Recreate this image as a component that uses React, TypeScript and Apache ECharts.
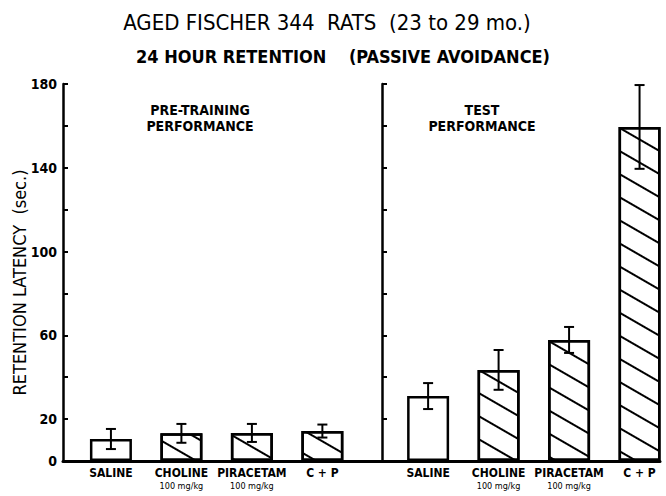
import React, { useEffect, useRef } from "react";
import * as echarts from "echarts";

const categories = ["SALINE", "CHOLINE", "PIRACETAM", "C + P"];
const doses = ["", "100 mg/kg", "100 mg/kg", ""];
const preMeans = [10.5, 13.2, 13.4, 14.3];
const preErrs = [4.8, 4.5, 4.3, 3.1];
const testMeans = [31, 43.5, 57.8, 159.5];
const testErrs = [6.2, 9.5, 6.2, 20];
const yTickLabels = [0, 20, 60, 100, 140, 180];
const panelTitles = ["PRE-TRAINING\nPERFORMANCE", "TEST\nPERFORMANCE"];
const mainTitle = "AGED FISCHER 344  RATS  (23 to 29 mo.)";
const subTitle = "24 HOUR RETENTION    (PASSIVE AVOIDANCE)";
const yName = "RETENTION LATENCY  (sec.)";

const FONT = "'DejaVu Sans Condensed', 'DejaVu Sans', sans-serif";

export default function App() {
  const ref = useRef<HTMLDivElement>(null);
  useEffect(() => {
    if (!ref.current) return;
    const chart = echarts.init(ref.current, null, { renderer: "svg" });
    const pos = (g: number, i: number) => 1 + i + g * 4.5;
    const groups = [
      { means: preMeans, errs: preErrs },
      { means: testMeans, errs: testErrs },
    ];
    const positions: number[] = [];
    const labelFor: string[] = [];
    const barData: any[] = [];
    const errData: number[][] = [];
    const hatch = {
      symbol: "rect",
      symbolSize: 1,
      dashArrayX: [1, 0],
      dashArrayY: [2, 18],
      rotation: Math.PI / 6,
      color: "#000",
    };
    groups.forEach((g, gi) => {
      categories.forEach((c, i) => {
        const x = pos(gi, i);
        positions.push(x);
        labelFor.push(doses[i] ? `{n|${c}}\n{d|${doses[i]}}` : `{n|${c}}`);
        barData.push({
          value: [x, g.means[i]],
          itemStyle: i === 0 ? { decal: "none" } : { decal: hatch },
        });
        errData.push([x, g.means[i], g.errs[i]]);
      });
    });

    const yAxisBase = {
      type: "value",
      min: 0,
      max: 180,
      interval: 20,
      position: "left",
      axisLine: { show: true, onZero: false, lineStyle: { color: "#000", width: 2.5 } },
      axisTick: { show: true, inside: true, length: 5, lineStyle: { color: "#000", width: 2 } },
      splitLine: { show: false },
    };

    chart.setOption({
      animation: false,
      backgroundColor: "#fff",
      grid: { left: 63, top: 84, width: 597, height: 377, containLabel: false, outerBoundsMode: "none" },
      xAxis: {
        type: "value",
        min: 0.32,
        max: 8.79,
        axisLine: { show: true, onZero: false, lineStyle: { color: "#000", width: 3 } },
        axisTick: { show: false },
        splitLine: { show: false },
        axisLabel: {
          customValues: positions,
          margin: 4,
          formatter: (v: number) => {
            const k = positions.findIndex((p) => Math.abs(p - v) < 0.01);
            return k >= 0 ? labelFor[k] : "";
          },
          rich: {
            n: { fontFamily: FONT, fontWeight: "bold", fontSize: 12, color: "#000", lineHeight: 15 },
            d: { fontFamily: FONT, fontSize: 9, color: "#000", lineHeight: 11 },
          },
        },
      },
      yAxis: [
        {
          ...yAxisBase,
          name: yName,
          nameLocation: "middle",
          nameGap: 35,
          nameMoveOverlap: false,
          nameTextStyle: { fontFamily: FONT, fontSize: 18, color: "#000", padding: [0, 20, 0, 0] },
          axisLabel: {
            margin: 6,
            color: "#000",
            fontFamily: FONT,
            fontWeight: "bold",
            fontSize: 14,
            formatter: (v: number) => (yTickLabels.includes(v) ? String(v) : ""),
          },
        },
        {
          ...yAxisBase,
          offset: -319,
          axisLabel: { show: false },
        },
      ],
      graphic: [
        {
          type: "text",
          x: 327,
          y: 22,
          style: { text: mainTitle, font: `22px ${FONT}`, fill: "#000", textAlign: "center", textVerticalAlign: "middle" },
        },
        {
          type: "text",
          x: 343,
          y: 56,
          style: { text: subTitle, font: `bold 18px ${FONT}`, fill: "#000", textAlign: "center", textVerticalAlign: "middle" },
        },
        {
          type: "text",
          x: 200,
          y: 118,
          style: { text: panelTitles[0], font: `bold 14px ${FONT}`, fill: "#000", textAlign: "center", textVerticalAlign: "middle", lineHeight: 16 },
        },
        {
          type: "text",
          x: 482,
          y: 118,
          style: { text: panelTitles[1], font: `bold 14px ${FONT}`, fill: "#000", textAlign: "center", textVerticalAlign: "middle", lineHeight: 16 },
        },
      ],
      series: [
        {
          type: "bar",
          barWidth: 42,
          data: barData,
          itemStyle: { color: "#fff", borderColor: "#000", borderWidth: 2.5 },
          z: 2,
        },
        {
          type: "custom",
          z: 5,
          encode: { x: 0, y: [1] },
          data: errData,
          renderItem: (params: any, api: any) => {
            const x = api.value(0);
            const m = api.value(1);
            const e = api.value(2);
            const t = api.coord([x, m + e]);
            const b = api.coord([x, m - e]);
            const hw = 5;
            const st = { stroke: "#000", lineWidth: 2 };
            return {
              type: "group",
              children: [
                { type: "line", shape: { x1: t[0], y1: t[1], x2: b[0], y2: b[1] }, style: st },
                { type: "line", shape: { x1: t[0] - hw, y1: t[1], x2: t[0] + hw, y2: t[1] }, style: st },
                { type: "line", shape: { x1: b[0] - hw, y1: b[1], x2: b[0] + hw, y2: b[1] }, style: st },
              ],
            };
          },
        },
      ],
    });
    return () => chart.dispose();
  }, []);
  return (
    <div
      ref={ref}
      style={{ position: "fixed", left: 0, top: 0, width: 666, height: 496 }}
    />
  );
}
